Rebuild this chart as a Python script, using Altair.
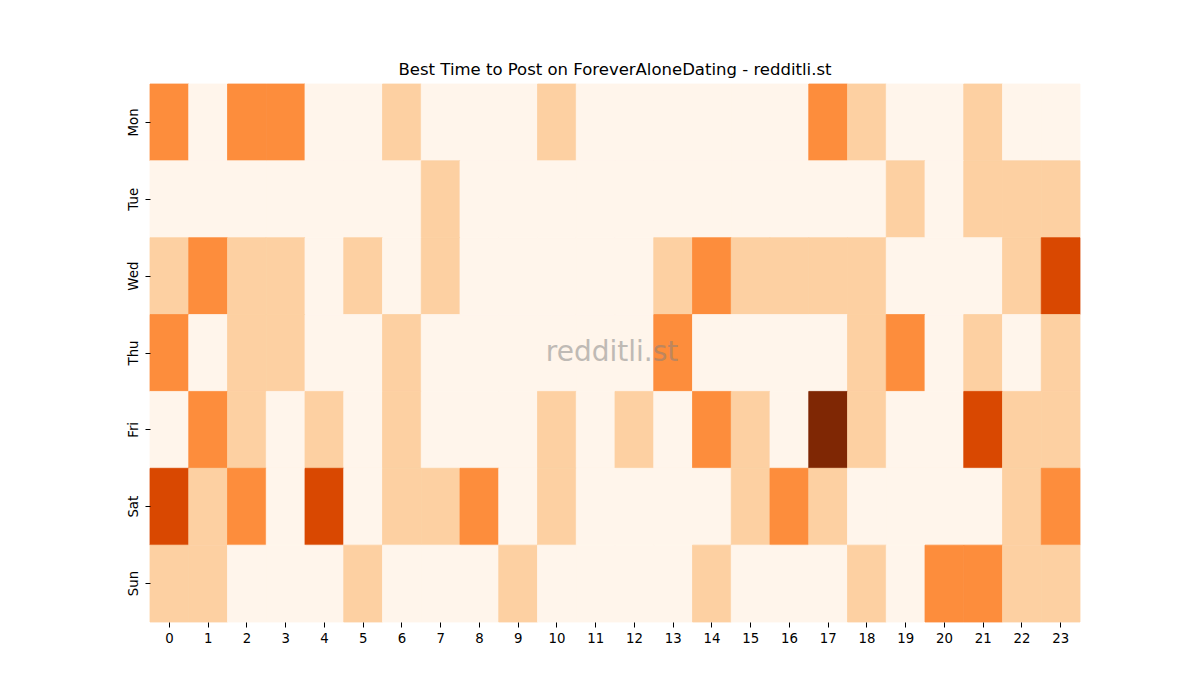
import altair as alt
import pandas as pd

days = ["Mon", "Tue", "Wed", "Thu", "Fri", "Sat", "Sun"]
hours = list(range(24))
mon = [2,0,2,2,0,0,1,0,0,0,1,0,0,0,0,0,0,2,1,0,0,1,0,0]
tue = [0,0,0,0,0,0,0,1,0,0,0,0,0,0,0,0,0,0,0,1,0,1,1,1]
wed = [1,2,1,1,0,1,0,1,0,0,0,0,0,1,2,1,1,1,1,0,0,0,1,3]
thu = [2,0,1,1,0,0,1,0,0,0,0,0,0,2,0,0,0,0,1,2,0,1,0,1]
fri = [0,2,1,0,1,0,1,0,0,0,1,0,1,0,2,1,0,4,1,0,0,3,1,1]
sat = [3,1,2,0,3,0,1,1,2,0,1,0,0,0,0,1,2,1,0,0,0,0,1,2]
sun = [1,1,0,0,0,1,0,0,0,1,0,0,0,0,1,0,0,0,1,0,2,2,1,1]
grid = [mon, tue, wed, thu, fri, sat, sun]
levels = [0, 1, 2, 3, 4]
palette = ["#fff5eb", "#fdd0a2", "#fd8d3c", "#d94801", "#7f2704"]

rows = []
for d, vals in zip(days, grid):
    for h, v in zip(hours, vals):
        rows.append({"day": d, "hour": str(h), "value": v})
df = pd.DataFrame(rows)

W, H = 930, 538
cscale = alt.Scale(domain=levels, range=palette)

heat = alt.Chart(df).mark_rect(strokeWidth=0.8).encode(
    x=alt.X("hour:N", sort=[str(h) for h in hours], title=None,
            axis=alt.Axis(labelAngle=0, labelFont="DejaVu Sans", labelFontSize=13.3,
                          labelColor="black", tickColor="black", tickSize=5,
                          domain=False, labelPadding=4)),
    y=alt.Y("day:N", sort=days, title=None,
            axis=alt.Axis(labelAngle=-90, labelFont="DejaVu Sans", labelFontSize=13.3,
                          labelColor="black", tickColor="black", tickSize=5,
                          domain=False, labelAlign="center", labelBaseline="bottom",
                          labelPadding=5)),
    color=alt.Color("value:O", scale=cscale, legend=None),
    stroke=alt.Stroke("value:O", scale=cscale, legend=None),
)

mark = alt.Chart(pd.DataFrame({"t": ["redditli.st"]})).mark_text(
    font="DejaVu Sans", fontSize=28, color="#808080", opacity=0.5,
    align="center", baseline="middle"
).encode(text="t:N", x=alt.value(W / 2 - 3), y=alt.value(H / 2))

chart = (heat + mark).properties(
    width=W, height=H,
    title=alt.TitleParams("Best Time to Post on ForeverAloneDating - redditli.st",
                          font="DejaVu Sans", fontSize=16.5, fontWeight="normal",
                          color="black", offset=5),
    autosize=alt.AutoSizeParams(type="none"),
    padding={"left": 142, "top": 76, "right": 112, "bottom": 62},
).configure_view(strokeWidth=0).configure_scale(bandPaddingInner=0, bandPaddingOuter=0)

chart.save("out.html", embed_options={"renderer": "svg", "actions": False})
